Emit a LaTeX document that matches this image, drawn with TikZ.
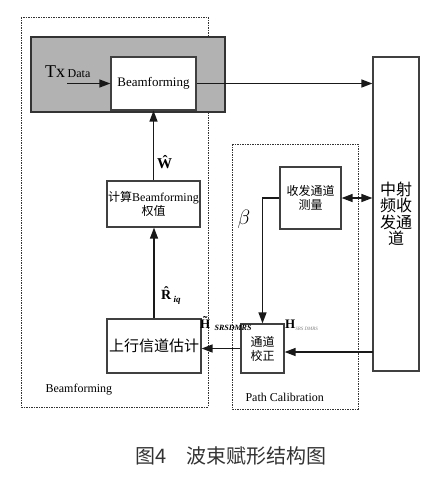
\documentclass[tikz,border=0pt]{standalone}
\usepackage{fontspec}
\setmainfont{Liberation Serif}
\newfontfamily\cjk{Noto Sans CJK SC}
\usepackage{tikz}
\usetikzlibrary{positioning,arrows.meta}

\begin{document}
\begin{tikzpicture}[
		x=1pt, y=-1pt,
		>={Triangle[length=11pt,width=8pt]},
		box/.style = {draw=black!75, line width=1.2pt, fill=white, inner sep=1pt, align=center},
		zone/.style = {draw=black!80, line width=.8pt, dash pattern=on 2pt off 1.2pt on .6pt off 1.2pt},
		link/.style = {line width=1.3pt, black!90},
		cn/.style = {font=\cjk\fontsize{12}{14}\selectfont}
	]
	\useasboundingbox (0,0) rectangle (437,493);
	% Regions.
	\draw[zone] (21,17) rectangle (208,407);
	\draw[zone] (232,144) rectangle (358,409);
	\node[anchor=base west, font=\fontsize{12}{14}\selectfont] (bfzone) at (42,392) {Beamforming};
	\node[anchor=base west, font=\fontsize{12}{14}\selectfont] (pczone) at (242,401) {Path Calibration};
	% Transmit side.
	\node[draw=black!80, fill=black!30, line width=1.2pt, minimum width=194pt, minimum height=75pt] (tx) at (128,74.5) {};
	\node[box, minimum width=85pt, minimum height=53pt, font=\fontsize{13}{15}\selectfont] (bf) at (153.5,83.5) {Beamforming};
	\node[anchor=base west, inner sep=0pt] (txl) at (45,77) {{\fontsize{18}{18}\selectfont Tx} {\fontsize{12}{12}\selectfont Data}};
	\coordinate (txin) at (67,83.5);
	% Weights and estimation.
	\node[box, minimum width=93pt, minimum height=46pt, cn] (calc) at (153.5,204) {计算{\rmfamily Beamforming}\\权值};
	\node[box, minimum width=94pt, minimum height=54pt, cn, font=\cjk\fontsize{15}{17}\selectfont] (est) at (154,346) {上行信道估计};
	% Calibration.
	\node[box, minimum width=61pt, minimum height=62pt, cn] (meas) at (310.5,198) {收发通道\\测量};
	\node[box, minimum width=43pt, minimum height=49pt, cn] (cal) at (262.5,348.5) {通道\\校正};
	\node[box, minimum width=46pt, minimum height=314pt, font=\cjk\fontsize{16}{16.5}\selectfont] (rf) at (396,214) {中射\\频收\\发通\\道};
	\coordinate (rfin) at (373,352);
	% Labels.
	\node[font=\fontsize{15}{15}\selectfont, inner sep=0pt] (w) at (164.5,162) {\textbf{\^W}};
	\node[anchor=base west, inner sep=0pt] (r) at (161,299) {{\fontsize{14}{14}\selectfont\textbf{\^R}}{\fontsize{9}{9}\selectfont\raisebox{-3pt}{\textbf{\textit{iq}}}}};
	\node[font=\fontsize{22}{22}\selectfont] (beta) at (244,219) {$\beta$};
	\node[anchor=base west, inner sep=0pt] (ht) at (200,328) {{\fontsize{13}{13}\selectfont\textbf{\~H}}{\fontsize{8}{8}\selectfont\raisebox{-2pt}{\textbf{\textit{SRSDMRS}}}}};
	\node[anchor=base west, inner sep=0pt] (h) at (285,328) {{\fontsize{13}{13}\selectfont\textbf{H}}{\fontsize{5}{5}\selectfont\raisebox{-2pt}{\textcolor{black!50}{\textit{SRS DMRS}}}}};
	\node[font=\cjk\fontsize{20}{22}\selectfont, text=black!80] (cap) at (231,456) {图4\hspace{1em}波束赋形结构图};

	\draw[link,->] (txin) to (bf.west);
	\draw[link,->] (bf.east) to (bf.east -| rf.west);
	\draw[link,->] (calc.north) to (bf.south);
	\draw[link,->] (est.north) to (est.north |- calc.south);
	\draw[link,<->] (meas.east) to (meas.east -| rf.west);
	\draw[link,->] (meas.west) -| (cal.north);
	\draw[link,->] (rfin) to (rfin -| cal.east);
	\draw[link,->] (cal.west) to (cal.west -| est.east);
\end{tikzpicture}
\end{document}
